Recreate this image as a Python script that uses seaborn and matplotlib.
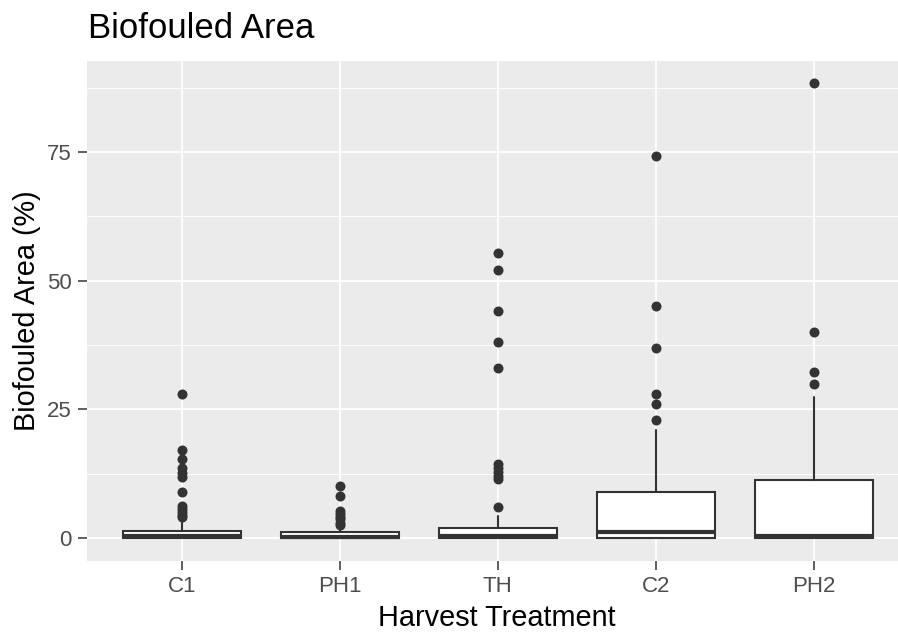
import matplotlib
matplotlib.use("Agg")
import matplotlib.pyplot as plt
from matplotlib.ticker import MultipleLocator
import pandas as pd
import seaborn as sns

# box statistics (Biofouled Area %)
treatments = ["C1", "PH1", "TH", "C2", "PH2"]
q1 = [0, 0, 0, 0, 0]
medians = [0.4, 0.25, 0.3, 1.2, 0.3]
q3 = [1.45, 1.1, 2.0, 8.9, 11.3]
whisker_lo = [0, 0, 0, 0, 0]
whisker_hi = [3.5, 2.2, 4.3, 21.0, 27.3]

# outlying points per treatment
out_c1 = [28.0, 17.1, 15.3, 13.5, 12.6, 11.8, 8.9, 6.3, 5.6, 5.0, 4.4, 4.0]
out_ph1 = [10.1, 8.2, 5.3, 4.7, 4.1, 3.6, 3.0, 2.6]
out_th = [55.3, 52.1, 44.0, 38.1, 33.1, 14.3, 13.5, 12.8, 12.0, 11.4, 6.1]
out_c2 = [74.3, 45.1, 37.0, 28.0, 26.0, 22.9]
out_ph2 = [88.3, 40.0, 32.3, 29.9]
outliers = [out_c1, out_ph1, out_th, out_c2, out_ph2]

sns.set_theme(style="darkgrid", rc={
    "axes.facecolor": "#EBEBEB",
    "grid.color": "white",
    "figure.facecolor": "white",
})
plt.rcParams['font.family'] = ['Liberation Sans', 'DejaVu Sans']

fig = plt.figure(figsize=(8.98, 6.32), dpi=100)
ax = fig.add_axes([87 / 898, (632 - 560.7) / 632, 811 / 898, 499.9 / 632])

# outliers as points
pts = pd.DataFrame({
    "treatment": [t for t, vals in zip(treatments, outliers) for _ in vals],
    "value": [v for vals in outliers for v in vals],
})
sns.stripplot(data=pts, x="treatment", y="value", order=treatments, jitter=False,
              color="#333333", size=7.2, linewidth=0, ax=ax, zorder=3)

# boxes from the summary stats
stats = []
for i, name in enumerate(treatments):
    stats.append({"label": name, "q1": q1[i], "med": medians[i], "q3": q3[i],
                  "whislo": whisker_lo[i], "whishi": whisker_hi[i], "fliers": []})
ax.bxp(stats, positions=range(len(treatments)), widths=0.75, patch_artist=True,
       showcaps=False, showfliers=False, manage_ticks=False, zorder=2,
       boxprops=dict(facecolor="white", edgecolor="#333333", linewidth=1.5),
       medianprops=dict(color="#333333", linewidth=3.0, solid_capstyle="butt"),
       whiskerprops=dict(color="#333333", linewidth=1.5))

ax.set_xlim(-0.6, -0.6 + 811 / 158)
ax.set_ylim(-4.415, 92.7)
ax.set_yticks([0, 25, 50, 75])
ax.yaxis.set_minor_locator(MultipleLocator(12.5))
ax.set_xticks(range(len(treatments)))
ax.set_xticklabels(treatments)

ax.set_axisbelow(True)
ax.grid(False)
ax.xaxis.grid(True, which="major", color="white", linewidth=1.3)
ax.yaxis.grid(True, which="major", color="white", linewidth=1.3)
ax.yaxis.grid(True, which="minor", color="white", linewidth=0.65)
for s in ax.spines.values():
    s.set_visible(False)

ax.tick_params(which="major", labelsize=16, labelcolor="#4D4D4D", color="#333333",
               length=6.5, width=1.1, pad=4.3, left=True, bottom=True)
ax.tick_params(which="minor", length=0)
ax.set_xlabel("")
ax.set_ylabel("")

# titles
fig.text(88 / 898, 1 - 38 / 632, "Biofouled Area", fontsize=25, color="black",
         ha="left", va="baseline")
fig.text(497 / 898, 1 - 626 / 632, "Harvest Treatment", fontsize=20.8, color="black",
         ha="center", va="baseline")
fig.text(27 / 898, 1 - 311 / 632, "Biofouled Area (%)", fontsize=20.8, color="black",
         ha="center", va="center", rotation=90)

fig.savefig("out.png", dpi=100)
